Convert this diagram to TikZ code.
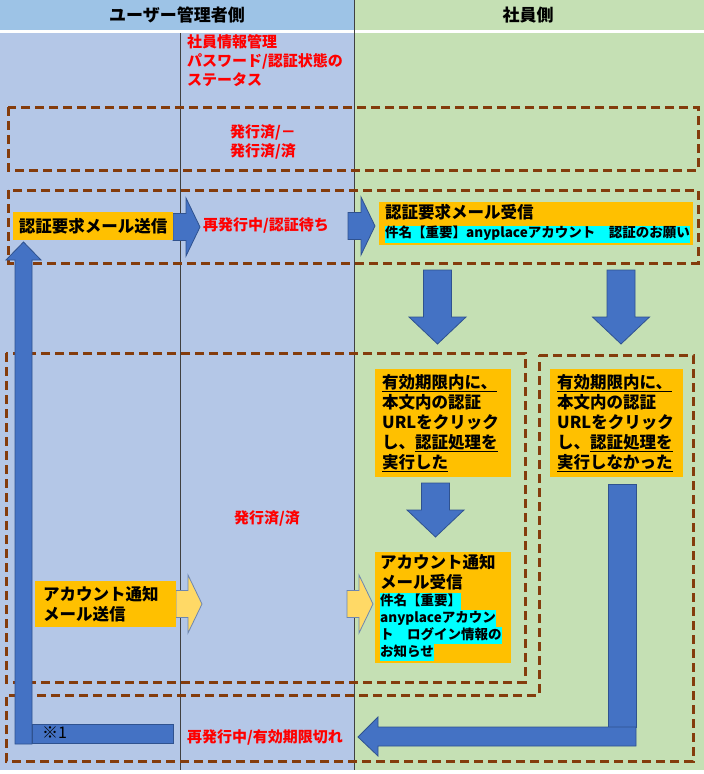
\documentclass[tikz,border=0pt]{standalone}
\usepackage{fontspec}
\newfontfamily\jp{Noto Sans CJK JP}
\usetikzlibrary{positioning}
\definecolor{hdrblue}{HTML}{9DC3E6}
\definecolor{admblue}{HTML}{B4C7E7}
\definecolor{empgreen}{HTML}{C5E0B4}
\definecolor{boxorange}{HTML}{FFC000}
\definecolor{arrblue}{HTML}{4472C4}
\definecolor{arrline}{HTML}{2F528F}
\definecolor{arryellow}{HTML}{FFD966}
\definecolor{dashbrown}{HTML}{843C0C}
\definecolor{stred}{HTML}{FF0000}
\definecolor{hlcyan}{RGB}{0,255,255}
\newcommand{\hl}[1]{{\setlength{\fboxsep}{0pt}\colorbox{hlcyan}{\rule[-0.28\baselineskip]{0pt}{\baselineskip}#1}}}

\begin{document}
\begin{tikzpicture}[x=1pt,y=-1pt]

\tikzset{head/.style={font=\jp\bfseries\fontsize{17}{20}\selectfont, inner sep=0},
  status/.style={text=stred, font=\jp\bfseries\fontsize{15}{19}\selectfont, align=left, inner sep=0},
  orangebox/.style={fill=boxorange, anchor=north west, inner ysep=0, align=left,
    font=\jp\bfseries\fontsize{16.5}{19.5}\selectfont},
  zone/.style={dashbrown, line width=3, dash pattern=on 9pt off 5pt},
  divider/.style={black!75, line width=1},
  blockarr/.style={fill=arrblue, draw=arrline, line width=0.8},
  lightarr/.style={fill=arryellow, draw=arrline!70, line width=0.8}}

\useasboundingbox (0,0) rectangle (704,774);

% lanes
\fill[white] (0,0) rectangle (704,774);
\fill[hdrblue] (0,0) rectangle (354,30);
\fill[empgreen] (354,0) rectangle (704,30);
\fill[admblue] (0,33) rectangle (354,770);
\fill[empgreen] (354,33) rectangle (704,770);
\draw[divider] (180,33) -- (180,770);
\draw[divider] (354,0) -- (354,770);

\node[head] (admhead) at (177,15) {ユーザー管理者側};
\node[head] (emphead) at (528,15) {社員側};

% dashed zones
\draw[zone] (8,107) rectangle (698,170);
\draw[zone] (8,190) rectangle (698,263);
\draw[zone] (6,353) rectangle (525,682);
\draw[zone] (539,355) -- (693,355) -- (693,761) -- (6,761) -- (6,695) -- (539,695) -- cycle;

% status texts
\node[status, anchor=north west] (empstat) at (187,34) {社員情報管理\\パスワード/認証状態の\\ステータス};
\node[status, align=center] (issued) at (263,142) {発行済/－\\発行済/済};
\node[status, anchor=west] (reissue) at (203,225) {再発行中/認証待ち};
\node[status] (done) at (267,518) {発行済/済};
\node[status, anchor=west] (expired) at (187,737) {再発行中/有効期限切れ};

% arrows
\foreach \xa/\xb/\cy/\sty in {173/200/227/blockarr, 348/375/226/blockarr, 176/202/604/lightarr, 347/373/604/lightarr}
{
\filldraw[\sty] (\xa,\cy-13.5) -- (\xb-14,\cy-13.5) -- (\xb-14,\cy-29) -- (\xb,\cy)
  -- (\xb-14,\cy+29) -- (\xb-14,\cy+13.5) -- (\xa,\cy+13.5) -- cycle;
}
\foreach \cx/\ya/\yb in {437.5/270/344, 621/270/344, 435.5/483/537}
{
\filldraw[blockarr] (\cx-14,\ya) -- (\cx+14,\ya) -- (\cx+14,\yb-27) -- (\cx+28.5,\yb-27)
  -- (\cx,\yb) -- (\cx-28.5,\yb-27) -- (\cx-14,\yb-27) -- cycle;
}

% return arrows
\filldraw[blockarr] (15,744) -- (15,260) -- (6,260) -- (23.5,242) -- (41,260) -- (32,260) -- (32,744) -- cycle;
\filldraw[blockarr] (32,724) rectangle (173,743);
\node[font=\jp\fontsize{16}{18}\selectfont, anchor=west, inner sep=0] (note1) at (42,733) {※1};
\filldraw[blockarr] (608,484) rectangle (636,727);
\filldraw[blockarr] (636,727) -- (636,746) -- (378,746) -- (378,756) -- (358,737) -- (378,717) -- (378,727) -- cycle;

% boxes
\node[orangebox, minimum width=160, minimum height=28, inner xsep=0, align=center] (sendreq) at (13,212) {認証要求メール送信};
\node[orangebox, text width=302, inner xsep=6, minimum height=43] (recvreq) at (379,202)
  {{認証要求メール受信\par}\vspace{2pt}{\fontsize{13.5}{17}\selectfont\hl{件名【重要】anyplaceアカウント　認証のお願い}\par}};
\node[orangebox, text width=122, inner xsep=7, minimum height=108, font=\jp\bfseries\fontsize{16.5}{20}\selectfont] (clicked) at (375,369)
  {\underline{有効期限内に、}\\本文内の認証\\URLをクリック\\し、\underline{認証処理を}\\\underline{実行した}};
\node[orangebox, text width=119, inner xsep=7, minimum height=108, font=\jp\bfseries\fontsize{16.5}{20}\selectfont] (notclicked) at (550,369)
  {\underline{有効期限内に、}\\本文内の認証\\URLをクリック\\し、\underline{認証処理を}\\\underline{実行しなかった}};
\node[orangebox, text width=125, inner xsep=8, minimum height=46] (sendacct) at (35,581)
  {アカウント通知\\メール送信};
\node[orangebox, text width=126, inner xsep=5, minimum height=111] (recvacct) at (375,552)
  {{アカウント通知\\メール受信\par}{\fontsize{13.5}{17}\selectfont\hl{件名【重要】}\\\hl{anyplaceアカウン}\\\hl{ト　ログイン情報の}\\\hl{お知らせ}\par}};

\end{tikzpicture}
\end{document}
